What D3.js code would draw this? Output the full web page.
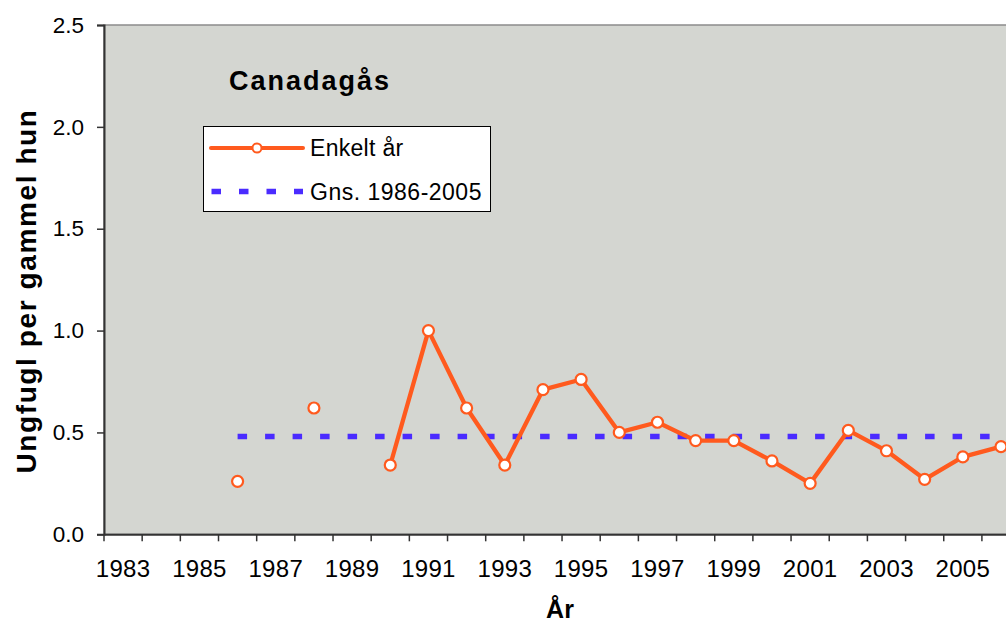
<!DOCTYPE html>
<html>
<head>
<meta charset="utf-8">
<script src="https://cdnjs.cloudflare.com/ajax/libs/d3/7.8.5/d3.min.js"></script>
<style>
    html, body { margin: 0; padding: 0; background: #fff; }
    svg { display: block; font-family: Arial, "Liberation Sans", sans-serif; }
</style>
</head>
<body>
<div id="chart"></div>
<script>
// years on the category axis (the plot runs on past the right edge of the picture)
var years = d3.range(1983, 2007);
var tickLabels = ['1983', '1985', '1987', '1989', '1991', '1993', '1995', '1997', '1999', '2001', '2003', '2005'];

// juveniles per adult female, single years (null = no count)
var singleYears = [1986, 1987, 1988, 1989, 1990, 1991, 1992, 1993, 1994, 1995, 1996,
                   1997, 1998, 1999, 2000, 2001, 2002, 2003, 2004, 2005, 2006];
var singleValues = [0.26, null, 0.62, null, 0.34, 1.00, 0.62, 0.34, 0.71, 0.76, 0.50,
                    0.55, 0.46, 0.46, 0.36, 0.25, 0.51, 0.41, 0.27, 0.38, 0.43];

// mean 1986-2005, drawn across the same years
var avgYears = d3.range(1986, 2007);
var avgValue = 0.48;

var yTicks = [0, 0.5, 1.0, 1.5, 2.0, 2.5];

var width = 1006, height = 622;
var margin = {top: 25, left: 104, bottom: 88};
var bandW = 38.17;
var plotH = height - margin.top - margin.bottom + 0.3;

var svg = d3.select('#chart').append('svg')
    .attr('width', width)
    .attr('height', height);

var x = d3.scaleBand()
    .domain(years)
    .range([margin.left, margin.left + bandW * years.length])
    .padding(0);

var y = d3.scaleLinear()
    .domain([0, 2.5])
    .range([margin.top + plotH, margin.top]);

var cx = function(yr) { return x(yr) + x.bandwidth() / 2; };

// plot area
svg.append('rect')
    .attr('x', x.range()[0])
    .attr('y', y(2.5))
    .attr('width', x.range()[1] - x.range()[0])
    .attr('height', y(0) - y(2.5))
    .attr('fill', '#d4d6d1')
    .attr('stroke', '#8c8c8c')
    .attr('stroke-width', 1.5);

// axes
var yAxis = d3.axisLeft(y)
    .tickValues(yTicks)
    .tickFormat(d3.format('.1f'))
    .tickSize(7)
    .tickPadding(13);

svg.append('g')
    .attr('transform', 'translate(' + margin.left + ',0)')
    .call(yAxis)
    .call(function(g) {
        g.select('.domain').attr('stroke', '#333').attr('stroke-width', 2);
        g.selectAll('.tick line').attr('stroke', '#333').attr('stroke-width', 1.5);
        g.selectAll('text').attr('font-size', 22.5).attr('fill', '#000');
    });

var xAxis = d3.axisBottom(x)
    .tickSize(0)
    .tickPadding(26)
    .tickFormat(function(d) { return tickLabels.indexOf(String(d)) >= 0 ? d : ''; });

svg.append('g')
    .attr('transform', 'translate(0,' + y(0) + ')')
    .call(xAxis)
    .call(function(g) {
        g.select('.domain').attr('stroke', '#333').attr('stroke-width', 2);
        g.selectAll('text').attr('font-size', 24).attr('letter-spacing', 0.3).attr('fill', '#000');
    });

// tick marks sit on the category boundaries
svg.append('g')
    .selectAll('line')
    .data(years.concat([years[years.length - 1] + 1]))
    .enter().append('line')
    .attr('x1', function(d) { return d <= years[years.length - 1] ? x(d) : x.range()[1]; })
    .attr('x2', function(d) { return d <= years[years.length - 1] ? x(d) : x.range()[1]; })
    .attr('y1', y(0))
    .attr('y2', y(0) + 7)
    .attr('stroke', '#333')
    .attr('stroke-width', 1.5);

// average line
var avgLine = d3.line()
    .x(function(d) { return cx(d); })
    .y(function() { return y(avgValue); });

svg.append('path')
    .datum(avgYears)
    .attr('d', avgLine)
    .attr('fill', 'none')
    .attr('stroke', '#4a2bff')
    .attr('stroke-width', 5.3)
    .attr('stroke-dasharray', '9.5,18');

// single years
var points = singleYears.map(function(yr, i) { return {year: yr, value: singleValues[i]}; });

var line = d3.line()
    .defined(function(d) { return d.value !== null; })
    .x(function(d) { return cx(d.year); })
    .y(function(d) { return y(d.value); });

svg.append('path')
    .datum(points)
    .attr('d', line)
    .attr('fill', 'none')
    .attr('stroke', '#ff5a1e')
    .attr('stroke-width', 4.3)
    .attr('stroke-linejoin', 'round');

svg.append('g')
    .selectAll('circle')
    .data(points.filter(function(d) { return d.value !== null; }))
    .enter().append('circle')
    .attr('cx', function(d) { return cx(d.year); })
    .attr('cy', function(d) { return y(d.value); })
    .attr('r', 5.5)
    .attr('fill', '#fff')
    .attr('stroke', '#ff5a1e')
    .attr('stroke-width', 2.2);

// title inside the plot
svg.append('text')
    .attr('x', 229)
    .attr('y', 90)
    .attr('font-size', 27)
    .attr('font-weight', 'bold')
    .attr('letter-spacing', 2)
    .text('Canadagås');

// legend
var legend = svg.append('g');
legend.append('rect')
    .attr('x', 203.5).attr('y', 126.5)
    .attr('width', 287).attr('height', 85)
    .attr('fill', '#fff')
    .attr('stroke', '#000')
    .attr('stroke-width', 1);

legend.append('line')
    .attr('x1', 211).attr('x2', 303)
    .attr('y1', 148).attr('y2', 148)
    .attr('stroke', '#ff5a1e')
    .attr('stroke-width', 4)
    .attr('stroke-linecap', 'round');
legend.append('circle')
    .attr('cx', 257).attr('cy', 148).attr('r', 4.5)
    .attr('fill', '#fff')
    .attr('stroke', '#ff5a1e')
    .attr('stroke-width', 2);
legend.append('text')
    .attr('x', 310).attr('y', 156)
    .attr('font-size', 23)
    .attr('letter-spacing', 0.3)
    .text('Enkelt år');

legend.append('line')
    .attr('x1', 211.5).attr('x2', 303)
    .attr('y1', 191.5).attr('y2', 191.5)
    .attr('stroke', '#4a2bff')
    .attr('stroke-width', 5.3)
    .attr('stroke-dasharray', '9.5,18');
legend.append('text')
    .attr('x', 310).attr('y', 200)
    .attr('font-size', 23)
    .attr('letter-spacing', 0.5)
    .text('Gns. 1986-2005');

// axis titles
svg.append('text')
    .attr('transform', 'translate(36,' + 291 + ') rotate(-90)')
    .attr('text-anchor', 'middle')
    .attr('font-size', 28)
    .attr('font-weight', 'bold')
    .attr('letter-spacing', 1.6)
    .text('Ungfugl per gammel hun');

svg.append('text')
    .attr('x', 560)
    .attr('y', 618)
    .attr('text-anchor', 'middle')
    .attr('font-size', 25)
    .attr('font-weight', 'bold')
    .text('År');
</script>
</body>
</html>
